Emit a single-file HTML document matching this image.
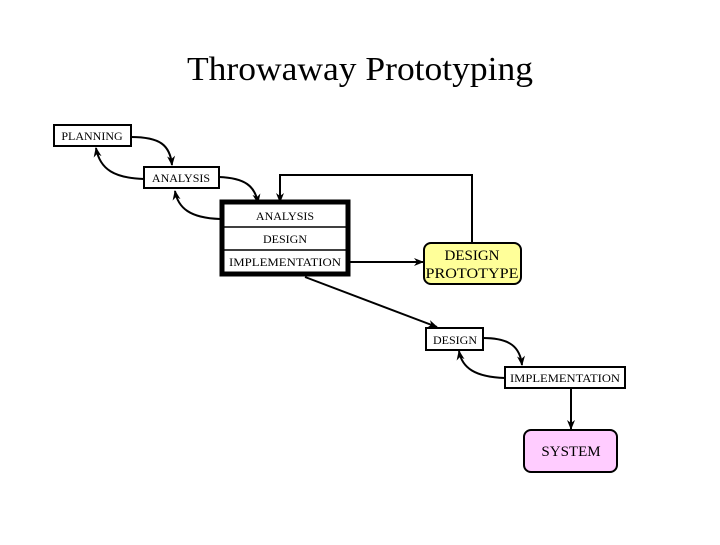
<!DOCTYPE html>
<html><head><meta charset="utf-8"><style>
html,body{margin:0;padding:0;background:#fff;}
svg text{font-family:"Liberation Serif",serif;fill:#000;}
</style></head><body>
<svg width="720" height="540" viewBox="0 0 720 540" xmlns="http://www.w3.org/2000/svg">
<defs>
<marker id="a" markerWidth="10" markerHeight="10" refX="9" refY="5" orient="auto" markerUnits="userSpaceOnUse">
<path d="M0,1 L10,5 L0,9 L3,5 Z" fill="#000"/></marker>
</defs>
<text x="360" y="80" font-size="34" text-anchor="middle" textLength="346" lengthAdjust="spacingAndGlyphs">Throwaway Prototyping</text>

<g fill="none" stroke="#000" stroke-width="2">
<!-- curved arrows -->
<path d="M131,137 C160,137 170,145 172,165" marker-end="url(#a)"/>
<path d="M144,179 C115,178 100,170 96,148" marker-end="url(#a)"/>
<path d="M219,177 C245,178 255,186 258,203" marker-end="url(#a)"/>
<path d="M220,219 C190,218 178,208 175,191" marker-end="url(#a)"/>
<path d="M483,338 C510,338 520,347 522,365" marker-end="url(#a)"/>
<path d="M505,378 C475,377 462,368 459,351" marker-end="url(#a)"/>
<!-- feedback -->
<path d="M472,243 L472,175 L280,175 L280,202" marker-end="url(#a)"/>
<path d="M350,262 L423,262" marker-end="url(#a)"/>
<path d="M305,277 L437,327" marker-end="url(#a)"/>
<path d="M571,388 L571,429" marker-end="url(#a)"/>
</g>

<g stroke="#000" stroke-width="2" fill="#fff">
<rect x="54" y="125" width="77" height="21"/>
<rect x="144" y="167" width="75" height="21"/>
<rect x="426" y="328" width="57" height="22"/>
<rect x="505" y="367" width="120" height="21"/>
</g>
<rect x="222" y="202" width="126" height="72" fill="#fff" stroke="#000" stroke-width="5"/>
<line x1="224" y1="227" x2="346" y2="227" stroke="#000" stroke-width="1.5"/>
<line x1="224" y1="250" x2="346" y2="250" stroke="#000" stroke-width="1.5"/>
<rect x="424" y="243" width="97" height="41" rx="7" fill="#ffff99" stroke="#000" stroke-width="2"/>
<rect x="524" y="430" width="93" height="42" rx="7" fill="#ffccff" stroke="#000" stroke-width="2"/>

<g font-size="12" text-anchor="middle">
<text x="92" y="140">PLANNING</text>
<text x="181" y="182">ANALYSIS</text>
<text x="285" y="220">ANALYSIS</text>
<text x="285" y="243">DESIGN</text>
<text x="285" y="266" textLength="112" lengthAdjust="spacingAndGlyphs">IMPLEMENTATION</text>
<text x="455" y="344">DESIGN</text>
<text x="565" y="382" textLength="110" lengthAdjust="spacingAndGlyphs">IMPLEMENTATION</text>
</g>
<g font-size="15" text-anchor="middle">
<text x="472" y="260">DESIGN</text>
<text x="472" y="278" textLength="93" lengthAdjust="spacingAndGlyphs">PROTOTYPE</text>
<text x="571" y="456">SYSTEM</text>
</g>
</svg>
</body></html>
